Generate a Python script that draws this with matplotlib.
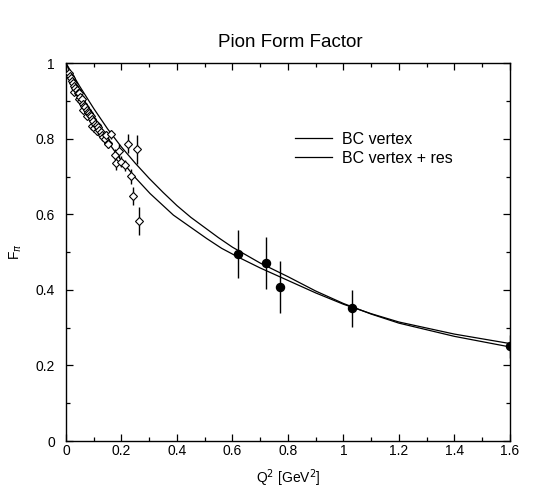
import matplotlib
matplotlib.use("Agg")
import matplotlib.pyplot as plt
from matplotlib.ticker import MultipleLocator

plt.rcParams['font.family'] = ['Liberation Sans', 'DejaVu Sans']

# Theory curves
q2_bc = [0.0, 0.05, 0.1, 0.15, 0.2, 0.25, 0.3, 0.35, 0.4, 0.45, 0.5, 0.55, 0.6, 0.7, 0.8,
         0.9, 1.0, 1.1, 1.2, 1.4, 1.6]
f_bc = [1.0, 0.938, 0.88, 0.826, 0.778, 0.735, 0.695, 0.658, 0.623, 0.592, 0.565, 0.538,
        0.513, 0.471, 0.435, 0.397, 0.364, 0.336, 0.312, 0.277, 0.249]
q2_res = [0.0, 0.05, 0.1, 0.15, 0.2, 0.25, 0.303, 0.387, 0.507, 0.561, 0.62, 0.7, 0.8, 0.9,
          1.0, 1.1, 1.2, 1.4, 1.6]
f_res = [1.0, 0.92, 0.852, 0.793, 0.742, 0.697, 0.655, 0.598, 0.536, 0.51, 0.487, 0.458,
         0.425, 0.392, 0.362, 0.337, 0.315, 0.283, 0.258]

# Low-Q2 data (open diamonds)
q2_low = [0.01, 0.014, 0.018, 0.022, 0.026, 0.03, 0.03, 0.034, 0.038, 0.042, 0.045, 0.046,
          0.05, 0.054, 0.058, 0.06, 0.062, 0.066, 0.07, 0.074, 0.075, 0.078, 0.082, 0.086,
          0.09, 0.094, 0.095, 0.098, 0.102, 0.106, 0.11, 0.11, 0.115, 0.12, 0.125, 0.13,
          0.135, 0.14, 0.145, 0.15, 0.153, 0.161, 0.177, 0.18, 0.192, 0.2, 0.213, 0.225,
          0.233, 0.243, 0.257, 0.264]
f_low = [0.975, 0.965, 0.96, 0.952, 0.948, 0.94, 0.925, 0.935, 0.93, 0.922, 0.905, 0.92,
         0.91, 0.899, 0.905, 0.875, 0.893, 0.888, 0.884, 0.876, 0.86, 0.872, 0.868, 0.862,
         0.859, 0.853, 0.835, 0.848, 0.828, 0.84, 0.836, 0.82, 0.83, 0.822, 0.818, 0.81,
         0.805, 0.80, 0.81, 0.788, 0.787, 0.812, 0.757, 0.735, 0.768, 0.739, 0.73, 0.787,
         0.701, 0.648, 0.772, 0.583]
err_low = [0.004, 0.004, 0.004, 0.004, 0.005, 0.005, 0.005, 0.005, 0.005, 0.005, 0.006, 0.006,
           0.006, 0.006, 0.006, 0.006, 0.006, 0.007, 0.007, 0.007, 0.007, 0.007, 0.007, 0.008,
           0.008, 0.008, 0.008, 0.008, 0.009, 0.009, 0.009, 0.009, 0.01, 0.01, 0.01, 0.01,
           0.011, 0.011, 0.011, 0.012, 0.012, 0.012, 0.015, 0.018, 0.018, 0.015, 0.015, 0.025,
           0.02, 0.024, 0.038, 0.037]

# High-Q2 data (filled circles)
q2_high = [0.62, 0.72, 0.77, 1.03, 1.6]
f_high = [0.495, 0.472, 0.408, 0.351, 0.251]
err_high = [0.064, 0.069, 0.068, 0.05, 0.03]

fig = plt.figure(figsize=(5.35, 4.9), dpi=100)
ax = fig.add_axes([0.1234, 0.1, 0.8296, 0.771])

ax.plot(q2_bc, f_bc, color='black', lw=0.9, label='BC vertex')
ax.plot(q2_res, f_res, color='black', lw=0.9, label='BC vertex + res')

ax.errorbar(q2_low, f_low, yerr=err_low, fmt='D', ms=4.5, mfc='white', mec='black',
            mew=0.8, ecolor='black', elinewidth=1.0, capsize=0, zorder=3)
ax.errorbar(q2_high, f_high, yerr=err_high, fmt='o', ms=5.8, mfc='black', mec='black',
            ecolor='black', elinewidth=1.0, capsize=0, zorder=3)

ax.set_xlim(0, 1.6)
ax.set_ylim(0, 1)
ax.xaxis.set_minor_locator(MultipleLocator(0.1))
ax.yaxis.set_minor_locator(MultipleLocator(0.1))
ax.set_yticks([0, 0.2, 0.4, 0.6, 0.8, 1.0])
ax.set_yticklabels(['0', '0.2', '0.4', '0.6', '0.8', '1'])
ax.set_xticks([0, 0.2, 0.4, 0.6, 0.8, 1.0, 1.2, 1.4, 1.6])
ax.set_xticklabels(['0', '0.2', '0.4', '0.6', '0.8', '1', '1.2', '1.4', '1.6'])
ax.tick_params(which='both', direction='in', top=True, right=True, labelsize=10)
ax.tick_params(which='major', length=5, width=0.9)
ax.tick_params(which='minor', length=3, width=0.9)
ax.tick_params(axis='y', which='major', pad=8)
ax.tick_params(axis='x', which='major', pad=2)
for s in ax.spines.values():
    s.set_linewidth(1.0)

ax.set_xlabel(r'Q$^2$ [GeV$^2$]', fontsize=10, labelpad=7)
ax.set_ylabel(r'F$_\pi$', fontsize=10, labelpad=8)
fig.text(0.542, 0.914, 'Pion Form Factor', ha='center', va='center', fontsize=13.5)

ax.legend(loc='upper left', bbox_to_anchor=(0.5158, 0.818), frameon=False, fontsize=11.5,
          handlelength=2.3, handletextpad=0.63, labelspacing=0.25, borderpad=0,
          borderaxespad=0)

fig.savefig('out.png', dpi=100)
